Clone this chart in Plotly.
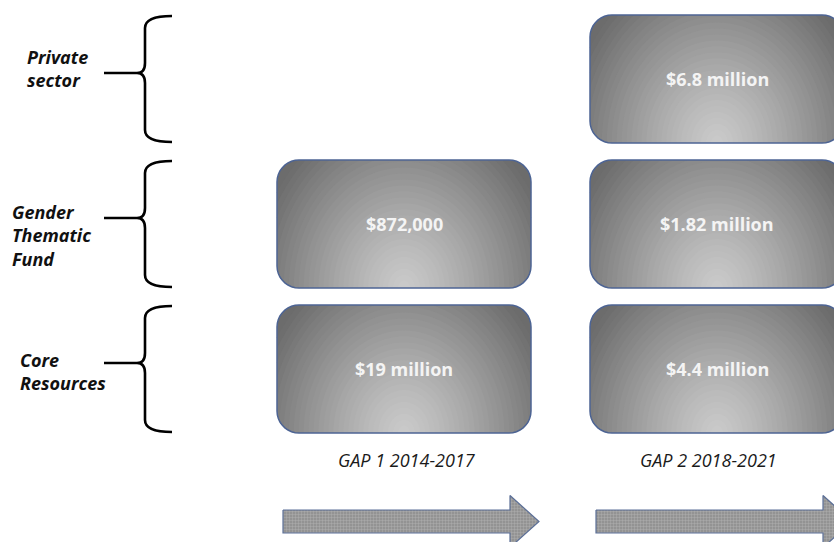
import numpy as np
import plotly.graph_objects as go

# ---------------- data ----------------
categories = ["Core Resources", "Gender Thematic Fund", "Private sector"]   # bottom -> top
category_labels = ["Core<br>Resources", "Gender<br>Thematic<br>Fund", "Private<br>sector"]
periods = ["GAP 1 2014-2017", "GAP 2 2018-2021"]
gap1_usd = [19_000_000, 872_000, None]
gap2_usd = [4_400_000, 1_820_000, 6_800_000]
gap1_labels = ["$19 million", "$872,000", None]
gap2_labels = ["$4.4 million", "$1.82 million", "$6.8 million"]
values = [gap1_usd, gap2_usd]
labels = [gap1_labels, gap2_labels]

# ---------------- layout / style constants ----------------
W, H = 834, 542
PX_COL, PX_ROW = 313.0, 145.0      # pixels per column / row unit
X0_PX, Y0_PX = 404.0, 369.0        # pixel centre of column 0 / row 0
BOX_W, BOX_H, RADIUS = 254.0, 128.0, 22.0
BOX_LINE = "#4d6494"
LABEL_LEFT_PX = [18, 10, 25]
LABEL_DY_PX = [2, 11, -11]
BRACE_X, BRACE_TIP, BRACE_PTR = 145.0, 172.0, 104.0
ARROW_Y_PX, ARROW_TEXT_Y_PX = 521.5, 460.0
ARROW_LEN, ARROW_HEAD, BODY_H, HEAD_H = 256.0, 29.0, 23.0, 52.0
ARROW_TEXT_DX = [3, -9]


def ax_x(col, dx_px=0.0):
    return col + dx_px / PX_COL


def ax_y(row, dy_px=0.0):          # dy_px measured downward on screen
    return row - dy_px / PX_ROW


def abs_x(x_px):
    return (x_px - X0_PX) / PX_COL


def abs_y(y_px):
    return (Y0_PX - y_px) / PX_ROW


def rounded_rect(w, h, r, n=10):
    pts = []
    corners = [(w / 2 - r, -h / 2 + r, -90, 0), (w / 2 - r, h / 2 - r, 0, 90),
               (-w / 2 + r, h / 2 - r, 90, 180), (-w / 2 + r, -h / 2 + r, 180, 270)]
    for cx, cy, a0, a1 in corners:
        for a in np.linspace(np.radians(a0), np.radians(a1), n):
            pts.append((cx + r * np.cos(a), cy + r * np.sin(a)))
    return pts


def cross(u, v):
    return u[0] * v[1] - u[1] * v[0]


def clip_poly(subject, clipper):
    area = sum(cross(clipper[i], clipper[(i + 1) % len(clipper)]) for i in range(len(clipper)))
    sgn = 1 if area > 0 else -1
    out = list(subject)
    for i in range(len(clipper)):
        a, b = clipper[i], clipper[(i + 1) % len(clipper)]
        ab = (b[0] - a[0], b[1] - a[1])
        inside = lambda p: sgn * cross(ab, (p[0] - a[0], p[1] - a[1])) >= 0
        def inter(p, q):
            d = (q[0] - p[0], q[1] - p[1])
            t = cross(ab, (a[0] - p[0], a[1] - p[1])) / cross(ab, d)
            return (p[0] + t * d[0], p[1] + t * d[1])
        inp, out = out, []
        if not inp:
            break
        s = inp[-1]
        for e in inp:
            if inside(e):
                if not inside(s):
                    out.append(inter(s, e))
                out.append(e)
            elif inside(s):
                out.append(inter(s, e))
            s = e
    return out


def path_from(col, row, pts):
    xs = [ax_x(col, p[0]) for p in pts]
    ys = [ax_y(row, p[1]) for p in pts]
    return "M " + " L ".join(f"{x:.5f},{y:.5f}" for x, y in zip(xs, ys)) + " Z"


def grey(r):
    v = int(round(202 - 94 * min(max(r, 0), 1) ** 1.2))
    return f"rgb({v},{v},{v})"


shapes, annotations = [], []
rr = rounded_rect(BOX_W, BOX_H, RADIUS)
theta = np.linspace(0, 2 * np.pi, 100, endpoint=False)
levels = np.linspace(1.0, 0.04, 30)

for col, (vals, labs) in enumerate(zip(values, labels)):
    for row, (v, lab) in enumerate(zip(vals, labs)):
        if v is None:
            continue
        shapes.append(dict(type="path", path=path_from(col, row, rr), xref="x", yref="y",
                           fillcolor=grey(1.0), line=dict(width=0), layer="above"))
        for k, r in enumerate(levels):
            ell = [(150 * r * np.cos(t), BOX_H / 2 - 180 * r * np.sin(t)) for t in theta]
            poly = clip_poly(ell, rr)
            if len(poly) < 3:
                continue
            rmid = r - (levels[0] - levels[1]) / 2
            shapes.append(dict(type="path", path=path_from(col, row, poly), xref="x", yref="y",
                               fillcolor=grey(rmid), line=dict(width=0), layer="above"))
        shapes.append(dict(type="path", path=path_from(col, row, rr), xref="x", yref="y",
                           fillcolor="rgba(0,0,0,0)", line=dict(color=BOX_LINE, width=1.5),
                           layer="above"))
        annotations.append(dict(x=ax_x(col), y=ax_y(row), text=f"<b>{lab}</b>", showarrow=False,
                                xanchor="center", yanchor="middle",
                                font=dict(family="Open Sans", size=18, color="#f4f4f4")))

# braces and category labels
for row, lab in enumerate(category_labels):
    cy = Y0_PX - row * PX_ROW
    top, bot, mid = cy - 63, cy + 63, cy - 6
    X = lambda p: f"{abs_x(p):.5f}"
    Y = lambda p: f"{abs_y(p):.5f}"
    d = (f"M {X(BRACE_TIP)},{Y(top)} Q {X(BRACE_X)},{Y(top)} {X(BRACE_X)},{Y(top + 12)} "
         f"L {X(BRACE_X)},{Y(mid - 10)} Q {X(BRACE_X)},{Y(mid)} {X(BRACE_X - 8)},{Y(mid)} "
         f"Q {X(BRACE_X)},{Y(mid)} {X(BRACE_X)},{Y(mid + 10)} "
         f"L {X(BRACE_X)},{Y(bot - 12)} Q {X(BRACE_X)},{Y(bot)} {X(BRACE_TIP)},{Y(bot)} "
         f"M {X(BRACE_PTR)},{Y(mid)} L {X(BRACE_X - 8)},{Y(mid)}")
    shapes.append(dict(type="path", path=d, xref="x", yref="y",
                       line=dict(color="#000000", width=2.6), fillcolor="rgba(0,0,0,0)"))
    annotations.append(dict(x=abs_x(LABEL_LEFT_PX[row]), y=ax_y(row, LABEL_DY_PX[row]),
                            text=f"<b><i>{lab}</i></b>", showarrow=False, align="left",
                            xanchor="left", yanchor="middle",
                            font=dict(family="Open Sans", size=18, color="#111111")))

fig = go.Figure()

# period arrows
for col, per in enumerate(periods):
    x0 = X0_PX + col * PX_COL - BOX_W / 2 + 6
    xs_px = [x0, x0 + ARROW_LEN - ARROW_HEAD, x0 + ARROW_LEN - ARROW_HEAD, x0 + ARROW_LEN,
             x0 + ARROW_LEN - ARROW_HEAD, x0 + ARROW_LEN - ARROW_HEAD, x0, x0]
    ys_px = [ARROW_Y_PX - BODY_H / 2, ARROW_Y_PX - BODY_H / 2, ARROW_Y_PX - HEAD_H / 2, ARROW_Y_PX,
             ARROW_Y_PX + HEAD_H / 2, ARROW_Y_PX + BODY_H / 2, ARROW_Y_PX + BODY_H / 2,
             ARROW_Y_PX - BODY_H / 2]
    fig.add_trace(go.Scatter(
        x=[abs_x(p) for p in xs_px], y=[abs_y(p) for p in ys_px], mode="lines",
        fill="toself", fillcolor="#959595",
        fillpattern=dict(shape=".", size=3, solidity=0.5, fgcolor="#c4c4c4", bgcolor="#8c8c8c"),
        line=dict(color="#5b6f97", width=1.2), hoverinfo="skip", showlegend=False))
    annotations.append(dict(x=ax_x(col, ARROW_TEXT_DX[col]), y=abs_y(ARROW_TEXT_Y_PX),
                            text=f"<i>{per}</i>",
                            showarrow=False, xanchor="center", yanchor="middle",
                            font=dict(family="Open Sans", size=18, color="#1a1a1a")))

fig.update_layout(
    width=W, height=H, margin=dict(l=0, r=0, t=0, b=0),
    paper_bgcolor="white", plot_bgcolor="white",
    xaxis=dict(range=[abs_x(0), abs_x(W)], visible=False, fixedrange=True),
    yaxis=dict(range=[abs_y(H), abs_y(0)], visible=False, fixedrange=True),
    shapes=shapes, annotations=annotations, showlegend=False,
)
fig.write_html("out.html")
